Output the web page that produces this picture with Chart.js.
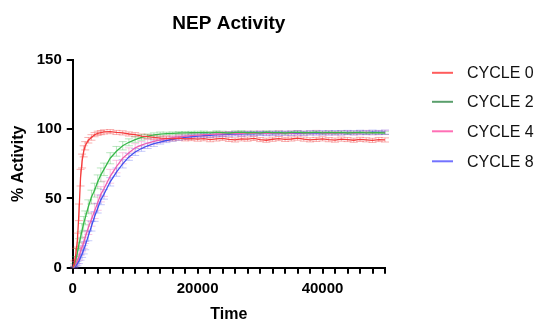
<!DOCTYPE html>
<html>
<head>
<meta charset="utf-8">
<script src="https://cdn.jsdelivr.net/npm/chart.js@4.4.1/dist/chart.umd.min.js"></script>
<style>
  body { margin: 0; background: #fff; }
  #wrap { width: 540px; height: 320px; }
</style>
</head>
<body>
<div id="wrap"><canvas id="nepChart" width="540" height="320"></canvas></div>
<script>
// time points (s)
const time = [0,250,500,750,1000,1250,1500,1750,2000,2500,3000,3500,4000,4500,5000,
  6000,7000,8000,9000,10000,11000,12000,13000,14000,15000,16000,17000,18000,19000,20000,
  21000,22000,23000,24000,25000,26000,27000,28000,29000,30000,31000,32000,33000,34000,35000,
  36000,37000,38000,39000,40000,41000,42000,43000,44000,45000,46000,47000,48000,49000,50000]

const cycle0 = [0,3,10,20,40,65,77,84,88,92,94,96,97,97.5,98,
  98.2,97.6,97.3,96.5,96,95,94.6,94,93.5,93.4,93,93.5,93,93.2,92.8,
  93.1,92.4,92.9,93.4,92.6,92.2,93,92.8,93.3,92.5,92,92.7,93.2,92.6,92.9,
  93.5,92.8,92.3,92.6,93,92.4,92.1,92.8,92.5,92,92.6,92.3,91.9,92.5,92.2]
const cycle2 = [0,2,6,11,17,22,27,32,36,44,51,56,62,67,71,
  79,84,88,90.5,92.5,94,95,95.8,96.4,96.8,97,97.2,97.3,97.4,97.5,
  97.6,97.3,97.8,97.5,97.2,97.7,97.9,97.4,97.6,97.3,97.8,97.5,97.7,97.2,97.6,
  97.9,97.4,97.5,97.8,97.3,97.6,97.4,97.7,97.2,97.5,97.6,97.3,97.5,97.4,97.2]
const cycle4 = [0,1,3,5,8,12,15,18,22,29,35,41,47,53,57,
  66,73,79,83,86.5,88.5,90,91.2,92.2,93,93.8,94.4,94.9,95.3,95.7,
  96,96.2,96.5,96.6,96.8,97,96.8,97.2,97,97.3,96.9,97.1,97.4,97,97.2,
  97.5,97.1,97.3,97.6,97.2,97.4,97,97.3,97.5,97.2,97.4,97.6,97.3,97.5,97.7]
const cycle8 = [0,0.5,1.5,3,5,7.5,10,13,16,23,30,37,43,49,53,
  62,69,75,80,83.5,86,88,89.5,90.7,91.8,92.7,93.4,94,94.5,94.9,
  95.3,95.6,95.9,96.1,96.3,96.5,96.4,96.7,96.6,96.9,96.7,97,96.8,97.1,96.9,
  97.2,97,97.3,97.1,97.4,97.2,97.5,97.3,97.6,97.4,97.7,97.5,97.8,97.6,97.8]

// error bars (SD)
const err0 = [0,2,4,5,6,6,5,4,3,2,2,1.5,1.5,1.5,1.5,
  1.5,1.5,1.5,1.5,1.5,1.5,1.5,1.5,1.5,1.5,1.5,1.5,1.5,1.5,1.5,
  1.5,1.5,1.5,1.5,1.5,1.5,1.5,1.5,1.5,1.5,1.5,1.5,1.5,1.5,1.5,
  1.5,1.5,1.5,1.5,1.5,1.5,1.5,1.5,1.5,1.5,1.5,1.5,1.5,1.5,1.5]
const err2 = [0,1,2,3,4,4,5,5,5,5,5,5,5,5,4.5,
  4,3.5,3,2.5,2,2,1.5,1.5,1.5,1,1,1,1,1,1,
  1,1,1,1,1,1,1,1,1,1,1,1,1,1,1,
  1,1,1,1,1,1,1,1,1,1,1,1,1,1,1]
const err4 = [0,1,1.5,2,2.5,3,3.5,4,4.5,5,5,5.5,5.5,5.5,5.5,
  5,4.5,4,3.5,3,2.5,2.5,2,2,2,1.5,1.5,1.5,1.5,1.5,
  1.5,1.5,1.5,1.5,1.5,1.5,1.5,1.5,1.5,1.5,1.5,1.5,1.5,1.5,1.5,
  1.5,1.5,1.5,1.5,1.5,1.5,1.5,1.5,1.5,1.5,1.5,1.5,1.5,1.5,1.5]
const err8 = [0,0.5,1,1.5,2,2,2.5,3,3,3.5,3.5,3.5,3.5,3.5,3.5,
  3,3,3,2.5,2.5,2,2,2,1.5,1.5,1.5,1.5,1.5,1.5,1.5,
  1.5,1.5,1.5,1.5,1.5,1.5,1.5,1.5,1.5,1.5,1.5,1.5,1.5,1.5,1.5,
  1.5,1.5,1.5,1.5,1.5,1.5,1.5,1.5,1.5,1.5,1.5,1.5,1.5,1.5,1.5]

const seriesNames = ['CYCLE 0','CYCLE 2','CYCLE 4','CYCLE 8']
const seriesValues = [cycle0, cycle2, cycle4, cycle8]
const seriesErrors = [err0, err2, err4, err8]
const lineColors = ['#f53b3b','#38b84a','#ee5fae','#4250ee']
const barColors = ['rgba(240,60,60,0.4)','rgba(56,184,74,0.35)','rgba(238,95,174,0.35)','rgba(66,80,238,0.3)']
const legendColors = ['#ff5c5c','#5a9f6c','#ff6fb5','#7272ff']

const font = 'Liberation Sans, Arial, Helvetica, sans-serif'

const errorBars = {
  id: 'errorBars',
  beforeDatasetsDraw(chart){
    const ctx = chart.ctx
    const xs = chart.scales.x, ys = chart.scales.y
    ctx.save()
    ctx.lineWidth = 1
    chart.data.datasets.forEach((ds, d)=>{
      ctx.strokeStyle = barColors[d]
      ds.data.forEach((p, i)=>{
        const e = seriesErrors[d][i]
        if(!e) return
        const px = xs.getPixelForValue(p.x)
        const top = ys.getPixelForValue(p.y + e)
        const bot = ys.getPixelForValue(p.y - e)
        ctx.beginPath()
        ctx.moveTo(px, top); ctx.lineTo(px, bot)
        ctx.moveTo(px-4, top); ctx.lineTo(px+4, top)
        ctx.moveTo(px-4, bot); ctx.lineTo(px+4, bot)
        ctx.stroke()
      })
    })
    ctx.restore()
  }
}

const sideLegend = {
  id: 'sideLegend',
  afterDraw(chart){
    const ctx = chart.ctx
    const left = chart.chartArea.right + 47
    let y = chart.chartArea.top + 13
    const gaps = [29, 29.5, 30]
    ctx.save()
    ctx.font = '16px ' + font
    ctx.textBaseline = 'middle'
    seriesNames.forEach((name, i)=>{
      ctx.strokeStyle = legendColors[i]
      ctx.lineWidth = 2
      ctx.beginPath()
      ctx.moveTo(left, y); ctx.lineTo(left+21, y)
      ctx.stroke()
      ctx.fillStyle = '#111'
      ctx.fillText(name, left+35, y+1)
      y += gaps[i] || 0
    })
    ctx.restore()
  }
}

const datasets = seriesNames.map((name, d)=>({
  label: name,
  data: time.map((t, i)=>({x: t, y: seriesValues[d][i]})),
  borderColor: lineColors[d],
  backgroundColor: lineColors[d],
  borderWidth: 1.3,
  pointRadius: 0,
  showLine: true,
  tension: 0
}))

const axisGrid = {drawOnChartArea: false, drawTicks: true, tickLength: 6, color: '#000', tickColor: '#000', tickWidth: 2, lineWidth: 2}

new Chart(document.getElementById('nepChart'), {
  type: 'scatter',
  data: {datasets: datasets},
  options: {
    responsive: false,
    animation: false,
    layout: {padding: {left: 9, right: 155, top: 0, bottom: 0}},
    plugins: {
      legend: {display: false},
      tooltip: {enabled: false},
      title: {
        display: true,
        text: 'NEP Activity',
        fullSize: false,
        color: '#000',
        font: {family: font, size: 19, weight: 'bold'},
        padding: {top: 12, bottom: 25}
      }
    },
    scales: {
      x: {
        type: 'linear',
        min: 0, max: 50000,
        grid: axisGrid,
        border: {color: '#000', width: 2},
        ticks: {
          stepSize: 2000, autoSkip: false, maxRotation: 0, padding: 6,
          color: '#000', font: {family: font, size: 15, weight: 'bold'},
          callback: v => v % 20000 === 0 ? String(v) : ''
        },
        title: {display: true, text: 'Time', color: '#000', font: {family: font, size: 16, weight: 'bold'}, padding: {top: 1, bottom: -4}}
      },
      y: {
        min: 0, max: 150,
        grid: axisGrid,
        border: {color: '#000', width: 2},
        ticks: {stepSize: 50, padding: 5, color: '#000', font: {family: font, size: 15, weight: 'bold'}},
        title: {display: true, text: '% Activity', color: '#000', font: {family: font, size: 16, weight: 'bold'}, padding: {top: 0, bottom: 3.5}}
      }
    }
  },
  plugins: [errorBars, sideLegend]
})
</script>
</body>
</html>
